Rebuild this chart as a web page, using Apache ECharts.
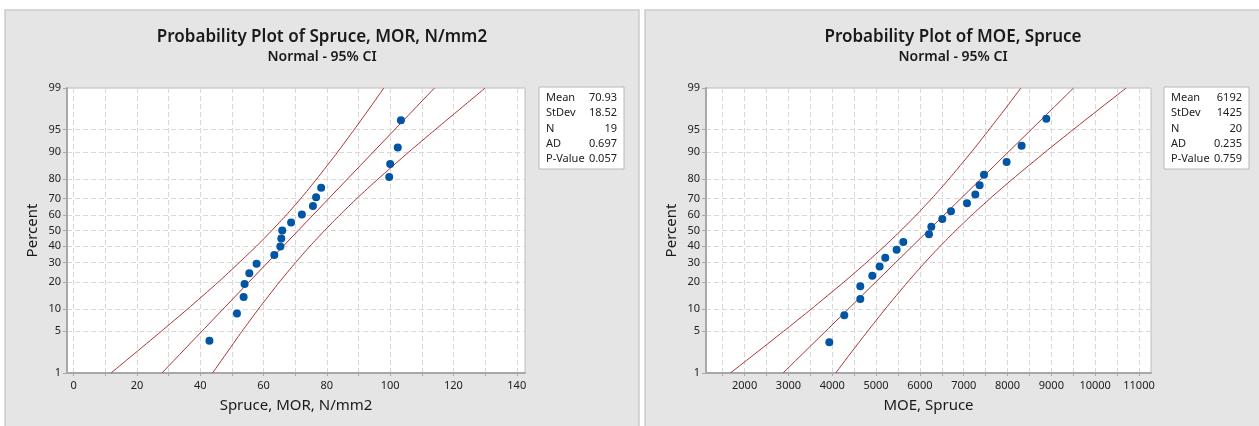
<!DOCTYPE html>
<html>
<head>
<meta charset="utf-8">
<script src="https://cdn.jsdelivr.net/npm/echarts@6/dist/echarts.min.js"></script>
<style>
html, body { margin: 0; padding: 0; background: #fff; }
#chart { width: 1259px; height: 426px; }
</style>
</head>
<body>
<div id="chart"></div>
<script>
// percent scale of the probability axis
var percentTicks = [1, 5, 10, 20, 30, 40, 50, 60, 70, 80, 90, 95, 99];
var bandPercent = [1, 2, 5, 10, 20, 30, 40, 50, 60, 70, 80, 90, 95, 98, 99];
var fitPercent = [1, 99];

// Spruce MOR, N/mm2
var morTicks = [0, 20, 40, 60, 80, 100, 120, 140];
var morGrid = [0, 10, 20, 30, 40, 50, 60, 70, 80, 90, 100, 110, 120, 130, 140];
var morValues = [42.9, 51.6, 53.7, 54.0, 55.5, 57.8, 63.4, 65.3, 65.6, 65.9, 68.7, 72.1, 75.6, 76.6, 78.2, 99.7, 100.0, 102.4, 103.4];
var morPercent = [3.6, 8.8, 13.9, 19.1, 24.2, 29.4, 34.5, 39.7, 44.8, 50.0, 55.2, 60.3, 65.5, 70.6, 75.8, 80.9, 86.1, 91.2, 96.4];
var morFit = [27.9, 114.0];
var morLower = [11.8, 18.2, 27.7, 36.0, 45.7, 52.3, 57.8, 62.6, 67.2, 71.8, 76.8, 83.4, 88.6, 94.3, 98.0];
var morUpper = [43.9, 47.6, 53.2, 58.4, 65.0, 70.1, 74.7, 79.3, 84.1, 89.5, 96.2, 105.9, 114.2, 123.7, 130.0];
var morStats = [['Mean', '70.93'], ['StDev', '18.52'], ['N', '19'], ['AD', '0.697'], ['P-Value', '0.057']];

// MOE, Spruce
var moeTicks = [2000, 3000, 4000, 5000, 6000, 7000, 8000, 9000, 10000, 11000];
var moeGrid = [1500, 2000, 2500, 3000, 3500, 4000, 4500, 5000, 5500, 6000, 6500, 7000, 7500, 8000, 8500, 9000, 9500, 10000, 10500, 11000];
var moeValues = [3933, 4275, 4640, 4640, 4914, 5081, 5210, 5469, 5622, 6208, 6261, 6512, 6710, 7075, 7265, 7363, 7463, 7979, 8321, 8885];
var moePercent = [3.4, 8.3, 13.2, 18.1, 23.0, 27.9, 32.8, 37.7, 42.6, 47.5, 52.5, 57.4, 62.3, 67.2, 72.1, 77.0, 81.9, 86.8, 91.7, 96.6];
var moeFit = [2877, 9507];
var moeLower = [1675, 2164, 2890, 3523, 4266, 4779, 5197, 5567, 5919, 6273, 6665, 7176, 7578, 8018, 8304];
var moeUpper = [4080, 4366, 4806, 5209, 5720, 6111, 6466, 6817, 7188, 7605, 8118, 8861, 9494, 10220, 10709];
var moeStats = [['Mean', '6192'], ['StDev', '1425'], ['N', '20'], ['AD', '0.235'], ['P-Value', '0.759']];

var FONT = 'Noto Sans';
var RED = '#ab3234';

// normal quantile (Acklam) -> maps percent onto the probability scale
function zOf(p) {
    var q = p / 100, t, r;
    var a = [-39.69683028665376, 220.9460984245205, -275.9285104469687, 138.3577518672690, -30.66479806614716, 2.506628277459239];
    var b = [-54.47609879822406, 161.5858368580409, -155.6989798598866, 66.80131188771972, -13.28068155288572];
    var c = [-0.007784894002430293, -0.3223964580411365, -2.400758277161838, -2.549732539343734, 4.374664141464968, 2.938163982698783];
    var d = [0.007784695709041462, 0.3224671290700398, 2.445134137142996, 3.754408661907416];
    if (q < 0.02425) {
        t = Math.sqrt(-2 * Math.log(q));
        return (((((c[0]*t+c[1])*t+c[2])*t+c[3])*t+c[4])*t+c[5]) / ((((d[0]*t+d[1])*t+d[2])*t+d[3])*t+1);
    }
    if (q > 1 - 0.02425) {
        t = Math.sqrt(-2 * Math.log(1 - q));
        return -(((((c[0]*t+c[1])*t+c[2])*t+c[3])*t+c[4])*t+c[5]) / ((((d[0]*t+d[1])*t+d[2])*t+d[3])*t+1);
    }
    t = q - 0.5; r = t * t;
    return (((((a[0]*r+a[1])*r+a[2])*r+a[3])*r+a[4])*r+a[5])*t / (((((b[0]*r+b[1])*r+b[2])*r+b[3])*r+b[4])*r+1);
}

function pairs(xs, ps) {
    return xs.map(function (x, i) { return [x, zOf(ps[i])]; });
}

function percentLabel(v) {
    var best = percentTicks[0];
    percentTicks.forEach(function (p) {
        if (Math.abs(zOf(p) - v) < Math.abs(zOf(best) - v)) best = p;
    });
    return String(best);
}

var zTicks = percentTicks.map(zOf);

function xAxisFor(idx, name, min, max, ticks, grid) {
    return {
        type: 'value', gridIndex: idx, min: min, max: max,
        name: name, nameLocation: 'middle', nameGap: 25,
        nameTextStyle: { fontFamily: FONT, fontSize: 15, color: '#1a1a1a' },
        axisLine: { onZero: false, lineStyle: { color: '#a8a8a8', width: 2 } },
        axisTick: { show: true, length: 3, customValues: grid, lineStyle: { color: '#a8a8a8' } },
        axisLabel: {
            customValues: ticks, fontFamily: FONT, fontSize: 11, color: '#222', margin: 7,
            formatter: function (v) { return String(v); }
        },
        splitLine: { show: true, lineStyle: { color: '#d9d9d9', type: [5, 3] } }
    };
}

function yAxisFor(idx) {
    return {
        type: 'value', gridIndex: idx, min: zOf(1), max: zOf(99),
        name: 'Percent', nameLocation: 'middle', nameGap: 27, nameRotate: 90,
        nameTextStyle: { fontFamily: FONT, fontSize: 15, color: '#1a1a1a' },
        axisLine: { onZero: false, lineStyle: { color: '#a8a8a8', width: 2 } },
        axisTick: { show: true, length: 4, customValues: zTicks, lineStyle: { color: '#a8a8a8' } },
        axisLabel: { customValues: zTicks, formatter: percentLabel, fontFamily: FONT, fontSize: 11, color: '#222', margin: 6 },
        splitLine: { show: true, lineStyle: { color: '#d9d9d9', type: [5, 3] } }
    };
}

function seriesFor(idx, values, percent, fit, lower, upper) {
    var line = function (data) {
        return {
            type: 'line', xAxisIndex: idx, yAxisIndex: idx, data: data, smooth: 0.2,
            showSymbol: false, lineStyle: { color: RED, width: 1 }, z: 2, silent: true
        };
    };
    return [
        line(pairs(lower, bandPercent)),
        line(pairs(upper, bandPercent)),
        line(pairs(fit, fitPercent)),
        {
            type: 'scatter', xAxisIndex: idx, yAxisIndex: idx, data: pairs(values, percent),
            symbolSize: 8, itemStyle: { color: '#0055a5', opacity: 1 }, z: 3
        }
    ];
}

function statsBox(x, y, rows) {
    var children = [{
        type: 'rect', shape: { x: 0, y: 0, width: 85, height: 82 },
        style: { fill: '#fff', stroke: '#b8b8b8', lineWidth: 1 }
    }];
    rows.forEach(function (r, i) {
        children.push({ type: 'text', x: 7, y: 11 + i * 15.2, style: { text: r[0], font: '11px ' + FONT, fill: '#222', verticalAlign: 'middle' } });
        children.push({ type: 'text', x: 78, y: 11 + i * 15.2, style: { text: r[1], font: '11px ' + FONT, fill: '#222', align: 'right', verticalAlign: 'middle' } });
    });
    return { type: 'group', x: x, y: y, children: children };
}

var myChart = echarts.init(document.getElementById('chart'));

var option = {
    backgroundColor: '#fff',
    animation: false,
    title: [{
        text: 'Probability Plot of Spruce, MOR, N/mm2', subtext: 'Normal - 95% CI',
        left: 322, top: 29, textAlign: 'center', padding: 0, itemGap: 4,
        textStyle: { fontFamily: FONT, fontSize: 17, fontWeight: 600, color: '#1a1a1a' },
        subtextStyle: { fontFamily: FONT, fontSize: 14, fontWeight: 600, color: '#1a1a1a' }
    }, {
        text: 'Probability Plot of MOE, Spruce', subtext: 'Normal - 95% CI',
        left: 953, top: 29, textAlign: 'center', padding: 0, itemGap: 4,
        textStyle: { fontFamily: FONT, fontSize: 17, fontWeight: 600, color: '#1a1a1a' },
        subtextStyle: { fontFamily: FONT, fontSize: 14, fontWeight: 600, color: '#1a1a1a' }
    }],
    graphic: [
        { type: 'rect', z: -10, shape: { x: 5, y: 10, width: 634, height: 430 }, style: { fill: '#e5e5e5', stroke: '#cbcbcb', lineWidth: 1.5 } },
        { type: 'rect', z: -10, shape: { x: 645, y: 10, width: 620, height: 430 }, style: { fill: '#e5e5e5', stroke: '#cbcbcb', lineWidth: 1.5 } },
        statsBox(539, 87, morStats),
        statsBox(1164, 87, moeStats)
    ],
    grid: [
        { left: 67, top: 88, width: 458, height: 285, show: true, backgroundColor: '#fff', borderColor: '#bdbdbd', borderWidth: 1 },
        { left: 706, top: 88, width: 445, height: 285, show: true, backgroundColor: '#fff', borderColor: '#bdbdbd', borderWidth: 1 }
    ],
    xAxis: [
        xAxisFor(0, 'Spruce, MOR, N/mm2', -2.1, 142.6, morTicks, morGrid),
        xAxisFor(1, 'MOE, Spruce', 1119, 11274, moeTicks, moeGrid)
    ],
    yAxis: [yAxisFor(0), yAxisFor(1)],
    series: seriesFor(0, morValues, morPercent, morFit, morLower, morUpper)
        .concat(seriesFor(1, moeValues, moePercent, moeFit, moeLower, moeUpper))
};

myChart.setOption(option);

window.addEventListener('resize', function () {
    myChart.resize();
});
</script>
</body>
</html>
